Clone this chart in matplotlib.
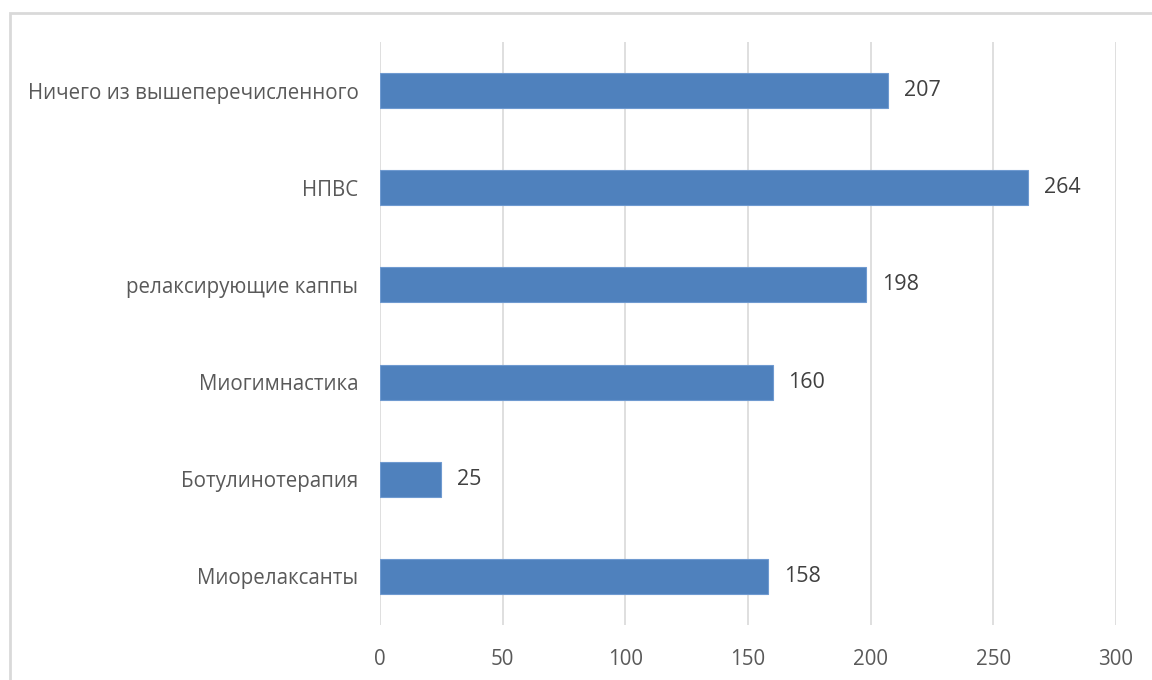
import matplotlib
matplotlib.use("Agg")
import matplotlib.pyplot as plt
from matplotlib.patches import Rectangle

categories = ["Ничего из вышеперечисленного", "НПВС", "релаксирующие каппы",
              "Миогимнастика", "Ботулинотерапия", "Миорелаксанты"]
values = [207, 264, 198, 160, 25, 158]
xticks = [0, 50, 100, 150, 200, 250, 300]

plt.rcParams['font.family'] = ['Open Sans', 'DejaVu Sans']
text_color = "#595959"
bar_color = "#4F81BD"
grid_color = "#D9D9D9"

W, H = 1152, 680
fig = plt.figure(figsize=(W / 100, H / 100), dpi=100)
ax = fig.add_axes([380 / W, 1 - 625 / H, (1116 - 380) / W, (625 - 42) / H])

pos = list(range(len(categories)))
ax.barh(pos, values, height=0.36, color=bar_color, edgecolor="#6F9AD0", linewidth=0.8, zorder=3)
for p, v in zip(pos, values):
    ax.annotate(str(v), (v, p), xytext=(11.5, 0), textcoords="offset points",
                va="center", ha="left", fontsize=15.5, color="#404040")

ax.set_xlim(0, 300)
ax.set_ylim(len(categories) - 0.5, -0.5)
ax.set_xticks(xticks)
ax.set_xticklabels([str(t) for t in xticks])
ax.set_yticks(pos)
ax.set_yticklabels(categories)
ax.tick_params(axis="both", length=0, colors=text_color, labelsize=14.8)
ax.tick_params(axis="y", pad=15.5)
ax.tick_params(axis="x", pad=17)
ax.grid(axis="x", color=grid_color, linewidth=1.2, zorder=0)
for s in ax.spines.values():
    s.set_visible(False)

fig.patches.append(Rectangle((10 / W, -0.1), 1.2, (1 - 13 / H) + 0.1, transform=fig.transFigure,
                             fill=False, edgecolor=grid_color, linewidth=2))

fig.savefig("out.png", dpi=100)
